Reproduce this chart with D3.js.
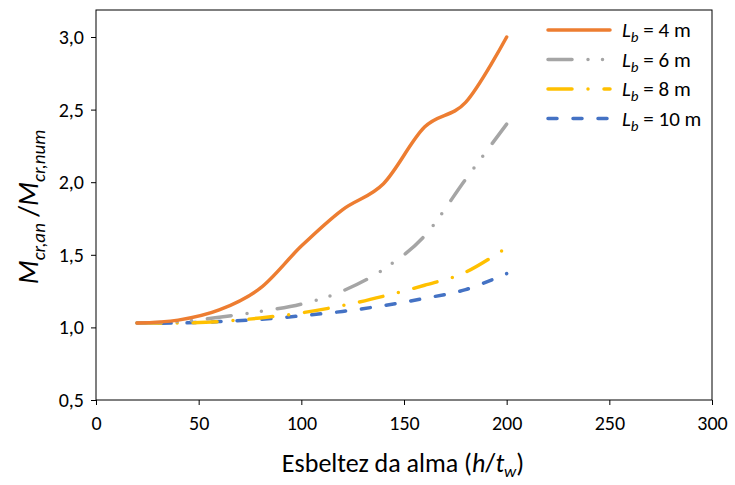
<!DOCTYPE html>
<html>
<head>
<meta charset="utf-8">
<script src="https://cdn.jsdelivr.net/npm/d3@7"></script>
<style>
  body { margin: 0; background: #fff; }
  text { font-family: Carlito, Calibri, Lato, "Open Sans", sans-serif; fill: #000; }
</style>
</head>
<body>
<svg id="chart" width="735" height="485"></svg>
<script>
// slenderness values (h/tw)
var slenderness = [20, 40, 60, 80, 100, 120, 140, 160, 180, 200];
// Mcr,an / Mcr,num for each unbraced length
var lb4 = [1.03, 1.05, 1.12, 1.27, 1.56, 1.81, 1.99, 2.38, 2.55, 3.00];
var lb6 = [1.03, 1.04, 1.07, 1.11, 1.16, 1.25, 1.40, 1.63, 2.02, 2.40];
var lb8 = [1.03, 1.03, 1.04, 1.065, 1.10, 1.15, 1.215, 1.29, 1.38, 1.55];
var lb10 = [1.03, 1.03, 1.04, 1.055, 1.08, 1.11, 1.15, 1.20, 1.26, 1.37];
var seriesNames = ["4", "6", "8", "10"];
var xTicks = [0, 50, 100, 150, 200, 250, 300];
var yTicks = [0.5, 1.0, 1.5, 2.0, 2.5, 3.0];

var series = [
  {name: seriesNames[0], vals: lb4, color: "#ED7D31", dash: null},
  {name: seriesNames[1], vals: lb6, color: "#A5A5A5", dash: "24,16,0,14.5,0,16"},
  {name: seriesNames[2], vals: lb8, color: "#FFC000", dash: "24,16,0,16"},
  {name: seriesNames[3], vals: lb10, color: "#4472C4", dash: "9,16"}
];

var svg = d3.select("#chart");
var x = d3.scaleLinear().domain([0, 300]).range([96, 712]);
var y = d3.scaleLinear().domain([0.5, 3.0]).range([400, 37]);
var fmt = function(d) { return d3.format(".1f")(d).replace(".", ","); };

// plot frame
svg.append("rect")
  .attr("x", 96).attr("y", 10)
  .attr("width", 712 - 96).attr("height", 390)
  .attr("fill", "none").attr("stroke", "#000").attr("stroke-width", 1);

var gx = svg.append("g").attr("transform", "translate(0,400)")
  .call(d3.axisBottom(x).tickValues(xTicks).tickSize(5).tickPadding(11));
gx.select(".domain").remove();
gx.selectAll("text").style("font-size", "20px");

var gy = svg.append("g").attr("transform", "translate(96,0)")
  .call(d3.axisLeft(y).tickValues(yTicks).tickFormat(fmt).tickSize(5).tickPadding(7));
gy.select(".domain").remove();
gy.selectAll("text").style("font-size", "20px");

var line = d3.line()
  .x(function(d, i) { return x(slenderness[i]); })
  .y(function(d) { return y(d); })
  .curve(d3.curveCardinal.tension(0));

// draw back to front so the blue sits on top like the reference
series.slice().reverse().forEach(function(s) {
  svg.append("path")
    .attr("d", line(s.vals))
    .attr("fill", "none")
    .attr("stroke", s.color)
    .attr("stroke-width", 3.5)
    .attr("stroke-linecap", "round")
    .attr("stroke-dasharray", s.dash);
});

// legend
var leg = svg.append("g");
series.forEach(function(s, i) {
  var yy = 30 + i * 29.5;
  leg.append("line")
    .attr("x1", 548).attr("x2", 610)
    .attr("y1", yy).attr("y2", yy)
    .attr("stroke", s.color).attr("stroke-width", 3.5)
    .attr("stroke-linecap", "round")
    .attr("stroke-dasharray", s.dash);
  var t = leg.append("text").attr("x", 622).attr("y", yy + 7).style("font-size", "21px");
  t.append("tspan").style("font-style", "italic").text("L");
  t.append("tspan").style("font-style", "italic").style("font-size", "15px").attr("dy", 5).text("b");
  t.append("tspan").attr("dy", -5).text(" = " + s.name + " m");
});

// axis titles
var xt = svg.append("text").attr("x", 403).attr("y", 472)
  .attr("text-anchor", "middle").style("font-size", "26px");
xt.append("tspan").text("Esbeltez da alma (");
xt.append("tspan").style("font-style", "italic").text("h");
xt.append("tspan").text("/");
xt.append("tspan").style("font-style", "italic").text("t");
xt.append("tspan").style("font-style", "italic").style("font-size", "17px").attr("dy", 5).text("w");
xt.append("tspan").attr("dy", -5).text(")");

var yt = svg.append("text")
  .attr("transform", "translate(38,207) rotate(-90)")
  .attr("text-anchor", "middle").style("font-size", "28px");
yt.append("tspan").style("font-style", "italic").text("M");
yt.append("tspan").style("font-style", "italic").style("font-size", "19px").attr("dy", 7).text("cr,an");
yt.append("tspan").attr("dy", -7).text(" /");
yt.append("tspan").style("font-style", "italic").text("M");
yt.append("tspan").style("font-style", "italic").style("font-size", "19px").attr("dy", 7).text("cr,num");
</script>
</body>
</html>
